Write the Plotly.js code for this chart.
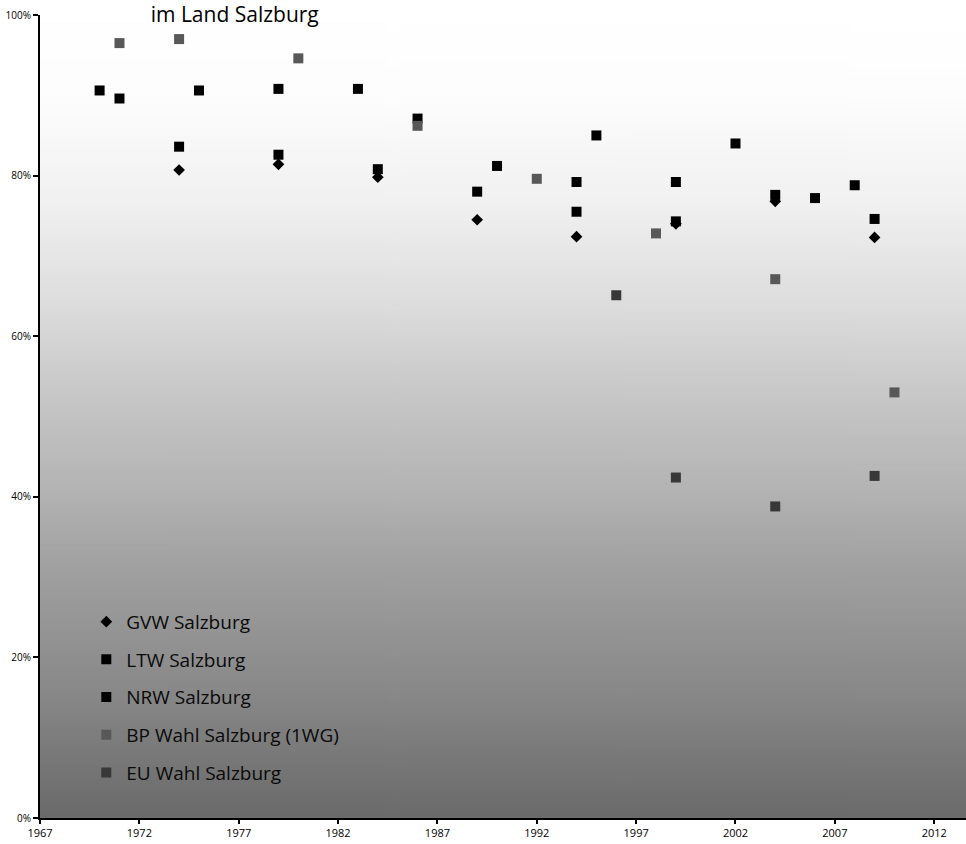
<!DOCTYPE html>
<html>
<head>
<meta charset="utf-8">
<script src="https://cdn.plot.ly/plotly-3.0.1.min.js"></script>
<style>
  html, body { margin: 0; padding: 0; background: #ffffff; }
  #chart { width: 966px; height: 844px; }
</style>
</head>
<body>
<div id="chart"></div>
<script>
// ---- data ----
const gvwYears = [1974, 1979, 1984, 1989, 1994, 1999, 2004, 2009];
const gvwVals  = [80.7, 81.4, 79.8, 74.5, 72.4, 74.0, 76.8, 72.3];

const ltwYears = [1974, 1979, 1984, 1989, 1994, 1999, 2004, 2009];
const ltwVals  = [83.6, 82.6, 80.8, 78.0, 75.5, 74.3, 77.6, 74.6];

const nrwYears = [1970, 1971, 1975, 1979, 1983, 1986, 1990, 1994, 1995, 1999, 2002, 2006, 2008];
const nrwVals  = [90.6, 89.6, 90.6, 90.8, 90.8, 87.1, 81.2, 79.2, 85.0, 79.2, 84.0, 77.2, 78.8];

const bpYears = [1971, 1974, 1980, 1986, 1992, 1998, 2004, 2010];
const bpVals  = [96.5, 97.0, 94.6, 86.2, 79.6, 72.8, 67.1, 53.0];

const euYears = [1996, 1999, 2004, 2009];
const euVals  = [65.1, 42.4, 38.8, 42.6];

const seriesNames = ['GVW Salzburg', 'LTW Salzburg', 'NRW Salzburg', 'BP Wahl Salzburg (1WG)', 'EU Wahl Salzburg'];
const xTicks = [1967, 1972, 1977, 1982, 1987, 1992, 1997, 2002, 2007, 2012];
const yTicks = [0, 20, 40, 60, 80, 100];
const yTickText = ['0%', '20%', '40%', '60%', '80%', '100%'];

// ---- gradient background image (styling only) ----
function gradientURL() {
  const c = document.createElement('canvas');
  c.width = 4; c.height = 512;
  const ctx = c.getContext('2d');
  const g = ctx.createLinearGradient(0, 0, 0, 512);
  g.addColorStop(0.00, '#ffffff');
  g.addColorStop(0.10, '#fdfdfd');
  g.addColorStop(0.23, '#f1f1f1');
  g.addColorStop(0.36, '#dddddd');
  g.addColorStop(0.48, '#c6c6c6');
  g.addColorStop(0.60, '#b2b2b2');
  g.addColorStop(0.68, '#a2a2a2');
  g.addColorStop(0.85, '#878787');
  g.addColorStop(1.00, '#6a6a6a');
  ctx.fillStyle = g;
  ctx.fillRect(0, 0, 4, 512);
  return c.toDataURL('image/png');
}

const font = "'Open Sans', 'Noto Sans', sans-serif";

function tr(name, xs, ys, symbol, color, size, grp) {
  return {
    type: 'scatter', mode: 'markers', name: name, x: xs, y: ys,
    legendgroup: grp,
    marker: { symbol: symbol, color: color, size: size, line: { width: 0 } },
    hoverinfo: 'x+y+name'
  };
}

const data = [
  tr(seriesNames[0], gvwYears, gvwVals, 'diamond', '#000000', 9, 'a'),
  tr(seriesNames[1], ltwYears, ltwVals, 'square', '#000000', 10, 'b'),
  tr(seriesNames[2], nrwYears, nrwVals, 'square', '#000000', 10, 'c'),
  tr(seriesNames[3], bpYears, bpVals, 'square', '#585858', 10, 'd'),
  tr(seriesNames[4], euYears, euVals, 'square', '#383838', 10, 'e')
];

const layout = {
  width: 966, height: 844,
  margin: { l: 40, r: 0, t: 15, b: 26 },
  paper_bgcolor: '#ffffff',
  plot_bgcolor: 'rgba(0,0,0,0)',
  font: { family: font, color: '#000000' },
  title: {
    text: 'im Land Salzburg',
    font: { family: font, size: 21, color: '#000000' },
    xref: 'container', yref: 'container',
    x: 0.243, xanchor: 'center',
    y: 0.996, yanchor: 'top', pad: { t: 4 }
  },
  xaxis: {
    range: [1967, 2013.6],
    tickmode: 'array', tickvals: xTicks, ticktext: xTicks.map(String),
    showgrid: false, zeroline: false,
    showline: true, linecolor: '#000000', linewidth: 2,
    ticks: 'outside', ticklen: 4, tickwidth: 1.5, tickcolor: '#000000',
    tickfont: { family: font, size: 11, color: '#000000' },
    fixedrange: true
  },
  yaxis: {
    range: [0, 100],
    tickmode: 'array', tickvals: yTicks, ticktext: yTickText,
    showgrid: false, zeroline: false,
    showline: true, linecolor: '#000000', linewidth: 2,
    ticks: 'outside', ticklen: 5, tickwidth: 1.5, tickcolor: '#000000',
    tickfont: { family: font, size: 10, color: '#000000' },
    fixedrange: true
  },
  legend: {
    x: 0.05, xanchor: 'left',
    y: 0.268, yanchor: 'top',
    bgcolor: 'rgba(0,0,0,0)', borderwidth: 0,
    tracegroupgap: 10,
    font: { family: font, size: 19, color: '#0a0a0a' }
  },
  images: [{
    source: gradientURL(),
    xref: 'paper', yref: 'paper',
    x: 0, y: 1, sizex: 1, sizey: 1,
    xanchor: 'left', yanchor: 'top',
    sizing: 'stretch', layer: 'below'
  }],
  showlegend: true
};

Plotly.newPlot('chart', data, layout, { displayModeBar: false, staticPlot: false });
</script>
</body>
</html>
